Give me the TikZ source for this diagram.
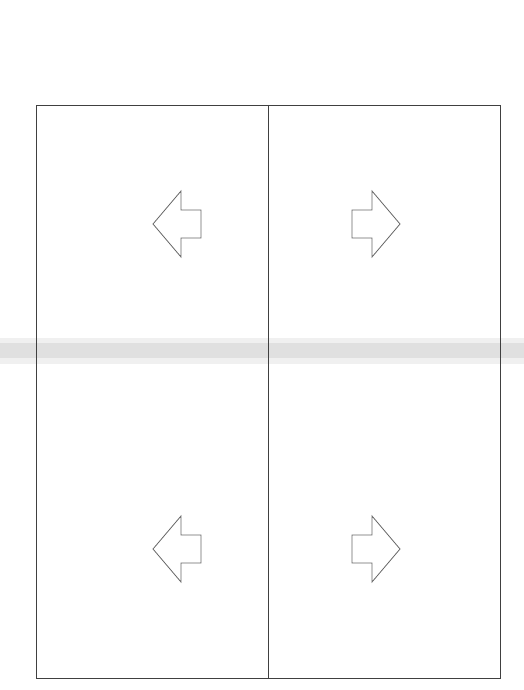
\documentclass[tikz,border=0pt]{standalone}
\begin{document}
\begin{tikzpicture}[x=1pt,y=-1pt,
  frame/.style={draw=black!75,line width=0.9pt},
  arrowshape/.style={draw=black!60,line width=0.8pt,line join=miter}]
\useasboundingbox (0,0) rectangle (524,690);
\fill[white] (0,0) rectangle (524,690);
% scan crease
\fill[black!12] (0,343) rectangle (524,358);
\fill[black!6] (0,338) rectangle (524,343);
\fill[black!6] (0,358) rectangle (524,364);
% frame
\coordinate (tl) at (36,105);
\coordinate (br) at (500,678);
\draw[frame] (tl) rectangle (br);
\coordinate (mt) at (268,105);
\coordinate (mb) at (268,678);
\draw[frame] (mt) -- (mb);
% arrows: pointing left
\foreach \cy in {224,549}{
  \draw[arrowshape] (153,\cy) -- (181,\cy-33) -- (181,\cy-14) -- (201,\cy-14)
     -- (201,\cy+14) -- (181,\cy+14) -- (181,\cy+33) -- cycle;
  \draw[arrowshape] (400,\cy) -- (372,\cy-33) -- (372,\cy-14) -- (352,\cy-14)
     -- (352,\cy+14) -- (372,\cy+14) -- (372,\cy+33) -- cycle;
}
\end{tikzpicture}
\end{document}
